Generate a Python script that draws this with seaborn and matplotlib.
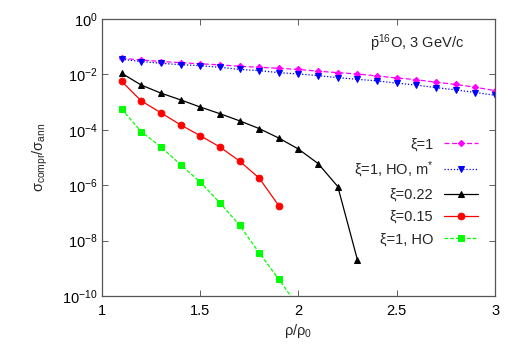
import numpy as np
import pandas as pd
import matplotlib
matplotlib.use("Agg")
import matplotlib.pyplot as plt
import seaborn as sns
from matplotlib.ticker import FixedLocator, LogFormatterMathtext, NullLocator

# ------------------------------
# Data
# ------------------------------
rho_full = [1.1, 1.2, 1.3, 1.4, 1.5, 1.6, 1.7, 1.8, 1.9, 2.0,
            2.1, 2.2, 2.3, 2.4, 2.5, 2.6, 2.7, 2.8, 2.9, 3.0]

xi1 = [3.8e-2, 3.3e-2, 2.9e-2, 2.65e-2, 2.4e-2, 2.2e-2, 1.95e-2, 1.8e-2, 1.65e-2, 1.5e-2,
       1.3e-2, 1.15e-2, 1.03e-2, 8.7e-3, 7.4e-3, 6.4e-3, 5.2e-3, 4.3e-3, 3.4e-3, 2.6e-3]

xi1_ho_mstar = [3.5e-2, 2.9e-2, 2.5e-2, 2.24e-2, 2.05e-2, 1.8e-2, 1.5e-2, 1.36e-2, 1.15e-2, 1.03e-2,
                9.0e-3, 7.6e-3, 6.6e-3, 5.8e-3, 4.8e-3, 4.1e-3, 3.3e-3, 2.75e-3, 2.2e-3, 1.75e-3]

rho_022 = [1.1, 1.2, 1.3, 1.4, 1.5, 1.6, 1.7, 1.8, 1.9, 2.0, 2.1, 2.2, 2.3]
xi022 = [1.1e-2, 4.1e-3, 2.1e-3, 1.2e-3, 6.6e-4, 3.8e-4, 2.1e-4, 1.1e-4, 5.0e-5, 2.0e-5,
         6.0e-6, 8.9e-7, 2.0e-9]

rho_015 = [1.1, 1.2, 1.3, 1.4, 1.5, 1.6, 1.7, 1.8, 1.9]
xi015 = [5.6e-3, 1.1e-3, 4.1e-4, 1.5e-4, 6.1e-5, 2.4e-5, 7.4e-6, 1.8e-6, 1.8e-7]

rho_ho = [1.1, 1.2, 1.3, 1.4, 1.5, 1.6, 1.7, 1.8, 1.9, 2.0]
xi1_ho = [5.6e-4, 8.5e-5, 2.4e-5, 5.5e-6, 1.3e-6, 2.3e-7, 3.6e-8, 3.6e-9, 4.0e-10, 4.0e-11]

# ------------------------------
# Style
# ------------------------------
sns.set_style("ticks")
plt.rcParams["font.family"] = ["Liberation Sans", "DejaVu Sans"]
plt.rcParams["font.size"] = 10.5
plt.rcParams["mathtext.fontset"] = "custom"
plt.rcParams["mathtext.rm"] = "Liberation Sans"
plt.rcParams["mathtext.it"] = "Liberation Sans"
plt.rcParams["mathtext.bf"] = "Liberation Sans:bold"

fig = plt.figure(figsize=(5.2, 3.64), dpi=100)
ax = fig.add_axes([0.196, 0.187, 0.756, 0.761])

series = [
    ("ξ=1", rho_full, xi1, "#ff00ff", "D", (0, (4, 2)), 3.2),
    ("ξ=1, HO, m$^{*}$", rho_full, xi1_ho_mstar, "#0000ff", "v", (0, (1, 1.5)), 4.2),
    ("ξ=0.22", rho_022, xi022, "black", "^", "-", 3.8),
    ("ξ=0.15", rho_015, xi015, "#ff0000", "o", "-", 4.8),
    ("ξ=1, HO", rho_ho, xi1_ho, "#00ff00", "s", (0, (3, 1.5)), 4.2),
]

for label, xs, ys, color, marker, ls, ms in series:
    df = pd.DataFrame({"rho": xs, "ratio": ys})
    sns.lineplot(data=df, x="rho", y="ratio", ax=ax, color=color, marker=marker,
                 markersize=ms, markeredgecolor=color, linestyle=ls, linewidth=0.9,
                 label=label)

ax.set_yscale("log")
ax.set_xlim(1, 3)
ax.set_ylim(1e-10, 1)
ax.set_xticks([1, 1.5, 2, 2.5, 3])
ax.set_xticklabels(["1", "1.5", "2", "2.5", "3"])
ax.yaxis.set_major_locator(FixedLocator([1e0, 1e-2, 1e-4, 1e-6, 1e-8, 1e-10]))
ax.yaxis.set_major_formatter(LogFormatterMathtext())
ax.yaxis.set_minor_locator(NullLocator())
ax.xaxis.set_minor_locator(NullLocator())
ax.tick_params(direction="in", top=True, right=True, length=4, width=0.6,
               colors="#444444", labelcolor="black", labelsize=10.5)
ax.tick_params(axis="x", pad=6)
ax.tick_params(axis="y", pad=3)
for sp in ax.spines.values():
    sp.set_color("#555555")
    sp.set_linewidth(0.9)

ax.set_xlabel(r"ρ/ρ$_0$", fontsize=10.5, labelpad=3)
ax.set_ylabel(r"$σ_{\rm compr}/σ_{\rm ann}$", fontsize=10.5, labelpad=9)

ax.text(0.922, 0.913, r"$\bar{\rm p}^{16}$O, 3 GeV/c", transform=ax.transAxes,
        ha="right", va="center", fontsize=10.5)

ax.legend(loc="upper right", bbox_to_anchor=(0.933, 0.643), bbox_transform=fig.transFigure,
          frameon=False, markerfirst=False, handlelength=2.3, handletextpad=0.75,
          labelspacing=0.56, borderpad=0, fontsize=10.5)

fig.savefig("out.png", dpi=100)
